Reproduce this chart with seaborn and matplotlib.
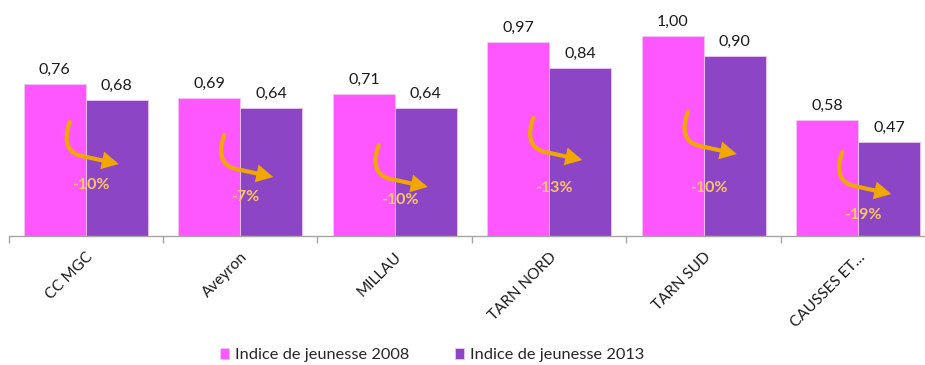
import matplotlib
matplotlib.use("Agg")
import matplotlib.pyplot as plt
from matplotlib.ticker import FixedLocator
from matplotlib.patches import FancyArrowPatch
from matplotlib.path import Path
import seaborn as sns
import pandas as pd

# Youth index per territory, 2008 vs 2013
territoires = ["CC MGC", "Aveyron", "MILLAU", "TARN NORD", "TARN SUD", "CAUSSES ET…"]
indice_2008 = [0.76, 0.69, 0.71, 0.97, 1.00, 0.58]
indice_2013 = [0.68, 0.64, 0.64, 0.84, 0.90, 0.47]
evolution = ["-10%", "-7%", "-10%", "-13%", "-10%", "-19%"]
series = ["Indice de jeunesse 2008", "Indice de jeunesse 2013"]

# vertical placement of the change arrows and their labels (value units)
arrow_top = [0.57, 0.505, 0.455, 0.59, 0.62, 0.42]
label_y = [0.255, 0.195, 0.18, 0.24, 0.24, 0.105]

PINK = "#FF57FF"
PURPLE = "#8C45C5"
ORANGE = "#F0A800"
LIGHT_ORANGE = "#FCC660"

df = pd.DataFrame({
    "territoire": territoires * 2,
    "valeur": indice_2008 + indice_2013,
    "serie": [series[0]] * len(territoires) + [series[1]] * len(territoires),
})

sns.set_theme(style="white")
plt.rcParams["font.family"] = ["Lato", "DejaVu Sans"]

fig = plt.figure(figsize=(9.25, 3.65), dpi=100)
ax = fig.add_axes([8.5 / 925, 129 / 365, 927 / 925, 220 / 365])

sns.barplot(data=df, x="territoire", y="valeur", hue="serie",
            palette=[PINK, PURPLE], saturation=1, width=0.8,
            edgecolor="#F2C6F2", linewidth=0.6, ax=ax)

ax.set_xlim(-0.5, len(territoires) - 0.5)
ax.set_ylim(0, 1.1)
ax.set_xlabel("")
ax.set_ylabel("")
ax.set_yticks([])
for side in ["left", "right", "top"]:
    ax.spines[side].set_visible(False)
ax.spines["bottom"].set_color("#A6A6A6")
ax.spines["bottom"].set_linewidth(1.0)

# category separators as small ticks, labels without ticks
ax.xaxis.set_minor_locator(FixedLocator([i - 0.5 for i in range(len(territoires) + 1)]))
ax.tick_params(axis="x", which="minor", length=5, width=1, color="#A6A6A6", bottom=True)
ax.tick_params(axis="x", which="major", length=0, pad=10, bottom=True)
ax.set_xticks(range(len(territoires)))
ax.set_xticklabels(territoires, rotation=45, ha="right", rotation_mode="anchor",
                   fontsize=11, color="#1A1A1A")

# value labels above each bar
for container in ax.containers:
    ax.bar_label(container, labels=[f"{b.get_height():.2f}".replace(".", ",") for b in container],
                 padding=5, fontsize=11.5, color="#1A1A1A")

# pixel size of one category / one value unit, to shape the hook arrows
x0, y0 = ax.transData.transform((0, 0))
x1, y1 = ax.transData.transform((1, 1))
px_x = x1 - x0
px_y = y1 - y0

# hook shape in pixels relative to its top point (x right, y down)
hook = [(0, 0), (-5, 14), (-6, 30), (12, 34), (49, 42)]
codes = [Path.MOVETO, Path.CURVE4, Path.CURVE4, Path.CURVE4, Path.LINETO]

for i, ev in enumerate(evolution):
    cx = i - 16 / px_x
    cy = arrow_top[i]
    verts = [(cx + dx / px_x, cy - dy / px_y) for dx, dy in hook]
    arrow = FancyArrowPatch(path=Path(verts, codes),
                            arrowstyle="-|>,head_length=0.75,head_width=0.4",
                            mutation_scale=10, lw=3, color=ORANGE,
                            capstyle="round", joinstyle="miter")
    ax.add_patch(arrow)
    ax.text(i + 0.03, label_y[i], ev, ha="center", va="center",
            fontsize=11.5, fontweight="bold", color=LIGHT_ORANGE)

ax.legend(loc="center", bbox_to_anchor=(432 / 925, 1 - 355 / 365),
          bbox_transform=fig.transFigure, ncol=2, frameon=False,
          fontsize=11.8, handlelength=0.55, handleheight=0.65, handletextpad=0.35,
          columnspacing=2.8)

fig.savefig("out.png", dpi=100)
